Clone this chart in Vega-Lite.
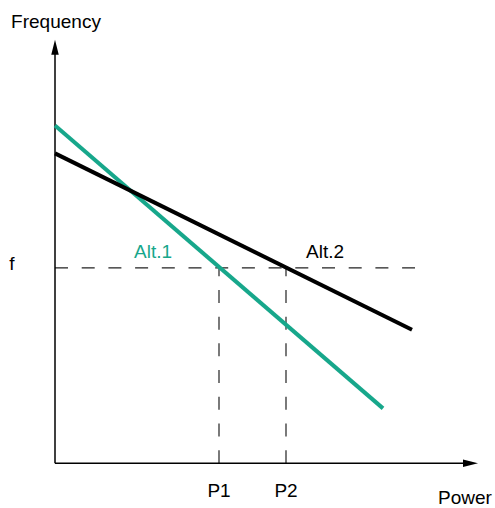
{
  "$schema": "https://vega.github.io/schema/vega-lite/v6.json",
  "width": 495,
  "height": 508,
  "autosize": {"type": "fit", "contains": "padding"},
  "padding": 0,
  "config": {"view": {"stroke": null}},
  "resolve": {"scale": {"color": "independent", "shape": "independent"}},
  "datasets": {
    "axes": [
      {"x": 0, "y": 0, "x2": 412, "y2": 0},
      {"x": 0, "y": 0, "x2": 0, "y2": 412}
    ],
    "arrows": [
      {"x": 415.5, "y": 0, "dir": "right"},
      {"x": 0, "y": 417.5, "dir": "up"}
    ],
    "dashes": [
      {"x": 0, "y": 196, "x2": 360, "y2": 196},
      {"x": 164, "y": 0, "x2": 164, "y2": 196},
      {"x": 231, "y": 0, "x2": 231, "y2": 196}
    ],
    "curves": [
      {"x": 0, "y": 339, "x2": 328, "y2": 55, "alt": "Alt.1"},
      {"x": 0, "y": 311, "x2": 357, "y2": 134, "alt": "Alt.2"}
    ],
    "labels": [
      {"x": 1, "y": 443, "text": "Frequency", "c": "black"},
      {"x": -43, "y": 200, "text": "f", "c": "black"},
      {"x": 98, "y": 212, "text": "Alt.1", "c": "teal"},
      {"x": 270, "y": 212, "text": "Alt.2", "c": "black"},
      {"x": 164, "y": -28, "text": "P1", "c": "black"},
      {"x": 231, "y": -28, "text": "P2", "c": "black"},
      {"x": 410, "y": -35, "text": "Power", "c": "black"}
    ]
  },
  "layer": [
    {
      "data": {"name": "dashes"},
      "mark": {"type": "rule", "color": "#222222", "strokeWidth": 1.2, "strokeDash": [13, 13.7]},
      "encoding": {
        "x": {"field": "x", "type": "quantitative", "scale": {"domain": [-55, 440], "nice": false, "zero": false}, "axis": null},
        "y": {"field": "y", "type": "quantitative", "scale": {"domain": [-43, 465], "nice": false, "zero": false}, "axis": null},
        "x2": {"field": "x2"},
        "y2": {"field": "y2"}
      }
    },
    {
      "data": {"name": "axes"},
      "mark": {"type": "rule", "color": "black", "strokeWidth": 1.5},
      "encoding": {
        "x": {"field": "x", "type": "quantitative"},
        "y": {"field": "y", "type": "quantitative"},
        "x2": {"field": "x2"},
        "y2": {"field": "y2"}
      }
    },
    {
      "data": {"name": "arrows"},
      "mark": {"type": "point", "filled": true, "color": "black", "opacity": 1, "size": 225},
      "encoding": {
        "x": {"field": "x", "type": "quantitative"},
        "y": {"field": "y", "type": "quantitative"},
        "shape": {
          "field": "dir",
          "type": "nominal",
          "scale": {"domain": ["right", "up"], "range": ["M-1,-0.5L1,0L-1,0.5Z", "M-0.5,1L0,-1L0.5,1Z"]},
          "legend": null
        }
      }
    },
    {
      "data": {"name": "curves"},
      "mark": {"type": "rule", "strokeWidth": 4},
      "encoding": {
        "x": {"field": "x", "type": "quantitative"},
        "y": {"field": "y", "type": "quantitative"},
        "x2": {"field": "x2"},
        "y2": {"field": "y2"},
        "color": {
          "field": "alt",
          "type": "nominal",
          "scale": {"domain": ["Alt.1", "Alt.2"], "range": ["#17a78b", "#000000"]},
          "legend": null
        }
      }
    },
    {
      "data": {"name": "labels"},
      "mark": {"type": "text", "font": "Liberation Sans", "fontSize": 19, "align": "center", "baseline": "middle"},
      "encoding": {
        "x": {"field": "x", "type": "quantitative"},
        "y": {"field": "y", "type": "quantitative"},
        "text": {"field": "text"},
        "color": {
          "field": "c",
          "type": "nominal",
          "scale": {"domain": ["black", "teal"], "range": ["#000000", "#17a78b"]},
          "legend": null
        }
      }
    }
  ]
}
